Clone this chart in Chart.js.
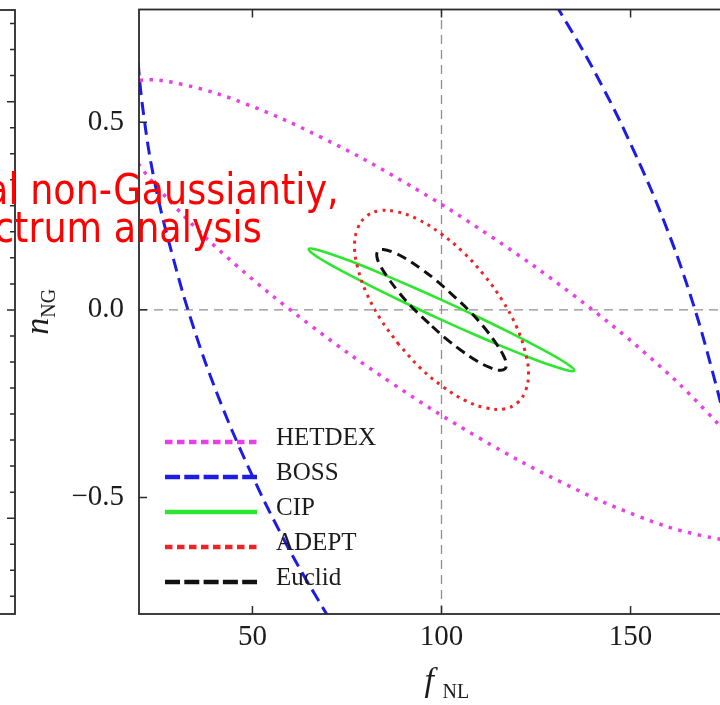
<!DOCTYPE html>
<html>
<head>
<meta charset="utf-8">
<title>fNL - nNG forecast contours</title>
<script src="https://cdn.jsdelivr.net/npm/chart.js@4.4.1/dist/chart.umd.min.js"></script>
<style>
  html, body { margin: 0; padding: 0; background: #fff; overflow: hidden; }
  #wrap { position: relative; width: 720px; height: 705px; overflow: hidden; }
  #panel { position: absolute; left: -100px; top: 0; }
  #main { position: absolute; left: 0; top: -12px; }
  .note {
    position: absolute; color: #f00; white-space: pre;
    font-family: "DejaVu Sans", sans-serif; font-size: 42px; line-height: 42px;
    transform: scaleX(0.87); transform-origin: 0 0;
  }
</style>
</head>
<body>
<div id="wrap">
  <canvas id="panel" width="130" height="705"></canvas>
  <canvas id="main" width="760" height="717"></canvas>
  <div class="note" style="left:-14px; top:169px">al non-Gaussiantiy,</div>
  <div class="note" style="left:-6px; top:207px">ctrum analysis</div>
</div>
<script>
// axes
const fRange = [20, 180];
const nRange = [-0.81, 0.8];
const fTicks = [20, 30, 40, 50, 60, 70, 80, 90, 100, 110, 120, 130, 140, 150, 160, 170, 180];
const fLabelled = [50, 100, 150];
const nTicks = [-0.8, -0.7, -0.6, -0.5, -0.4, -0.3, -0.2, -0.1, 0, 0.1, 0.2, 0.3, 0.4, 0.5, 0.6, 0.7, 0.8];
const nLabelled = [-0.5, 0, 0.5];
const nLabelText = ['\u22120.5', '0.0', '0.5'];

// fiducial cross
const fidF = 100;
const fidN = 0;

// neighbouring panel, only its right edge shows
const panelRange = [-1.46, 1.44];
const panelTicks = [-1.375, -1.25, -1.125, -1, -0.875, -0.75, -0.625, -0.5, -0.375, -0.25, -0.125, 0,
  0.125, 0.25, 0.375, 0.5, 0.625, 0.75, 0.875, 1, 1.125, 1.25, 1.375];
const panelMajor = [-1, 0, 1];

// contours (fNL, nNG)
const hetdexF = [186.3, 180.0, 168.3, 151.9, 131.9, 109.8, 87.0, 65.1, 45.6, 29.8, 18.8, 13.3, 13.7,
  20.0, 31.7, 48.1, 68.1, 90.2, 113.0, 134.9, 154.4, 170.2, 181.2, 186.7, 186.3];
const hetdexN = [-0.580, -0.611, -0.600, -0.549, -0.460, -0.340, -0.196, -0.039, 0.120, 0.272, 0.404, 0.510, 0.580,
  0.611, 0.600, 0.549, 0.460, 0.340, 0.196, 0.039, -0.120, -0.272, -0.404, -0.510, -0.580];

const bossF = [155.3, 138.2, 118.4, 97.4, 76.6, 66.7, 57.4, 48.8, 41.0, 34.3, 28.8, 24.3, 21.3, 19.6, 19.2,
  22.6, 31.3, 44.7, 61.8, 81.6, 102.6, 123.4, 133.3, 142.6, 151.2, 159.0, 165.7, 171.2, 175.7, 178.7,
  180.8, 177.4, 168.7, 155.3];
const bossN = [-1.430, -1.441, -1.354, -1.175, -0.916, -0.761, -0.594, -0.416, -0.232, -0.043, 0.147, 0.333, 0.514, 0.687, 0.848,
  1.123, 1.321, 1.430, 1.441, 1.354, 1.175, 0.916, 0.761, 0.594, 0.416, 0.232, 0.043, -0.147, -0.333, -0.514,
  -0.848, -1.123, -1.321, -1.430];

const cipF = [99.0, 89.9, 81.6, 74.5, 69.1, 65.8, 64.9, 66.3, 70.1, 75.9, 83.3, 91.9, 101.0,
  110.1, 118.4, 125.5, 130.9, 134.2, 135.1, 133.7, 129.9, 124.1, 116.7, 108.1, 99.0];
const cipN = [-0.022, 0.021, 0.062, 0.099, 0.129, 0.151, 0.162, 0.162, 0.151, 0.130, 0.100, 0.063, 0.022,
  -0.021, -0.062, -0.099, -0.129, -0.151, -0.162, -0.162, -0.151, -0.130, -0.100, -0.063, -0.022];

const adeptF = [88.7, 83.9, 80.2, 77.9, 77.0, 77.8, 80.0, 83.6, 88.3, 93.8, 99.7, 105.7, 111.3,
  116.1, 119.8, 122.1, 123.0, 122.2, 120.0, 116.4, 111.7, 106.2, 100.3, 94.3, 88.7];
const adeptN = [-0.092, -0.025, 0.044, 0.110, 0.168, 0.216, 0.248, 0.264, 0.261, 0.241, 0.204, 0.154, 0.092,
  0.025, -0.044, -0.110, -0.168, -0.216, -0.248, -0.264, -0.261, -0.241, -0.204, -0.154, -0.092];

const euclidF = [96.7, 92.4, 88.7, 85.8, 83.8, 82.9, 83.2, 84.6, 87.1, 90.5, 94.5, 98.9, 103.3,
  107.6, 111.3, 114.2, 116.2, 117.1, 116.8, 115.4, 112.9, 109.5, 105.5, 101.1, 96.7];
const euclidN = [-0.036, 0.005, 0.047, 0.086, 0.118, 0.142, 0.157, 0.161, 0.154, 0.137, 0.110, 0.076, 0.036,
  -0.005, -0.047, -0.086, -0.118, -0.142, -0.157, -0.161, -0.154, -0.137, -0.110, -0.076, -0.036];

const ink = '#1c1c1c';
const near = (v, list) => list.findIndex(m => Math.abs(m - v) < 1e-9);

// closed frame with ticks pointing inwards, Mathematica style
const frame = {
  id: 'frame',
  afterDatasetsDraw(chart, args, o) {
    const { ctx, chartArea: a, scales: { x, y } } = chart;
    ctx.save();
    ctx.strokeStyle = o.color;
    ctx.lineWidth = o.width;
    ctx.strokeRect(a.left, a.top, a.right - a.left, a.bottom - a.top);
    ctx.beginPath();
    if (o.xMajor) {
      x.ticks.forEach(t => {
        const p = x.getPixelForValue(t.value);
        const len = near(t.value, o.xMajor) >= 0 ? o.major : o.minor;
        ctx.moveTo(p, a.bottom); ctx.lineTo(p, a.bottom - len);
        ctx.moveTo(p, a.top); ctx.lineTo(p, a.top + len);
      });
    }
    y.ticks.forEach(t => {
      const p = y.getPixelForValue(t.value);
      const len = near(t.value, o.yMajor) >= 0 ? o.major : o.minor;
      ctx.moveTo(a.left, p); ctx.lineTo(a.left + len, p);
      ctx.moveTo(a.right, p); ctx.lineTo(a.right - len, p);
    });
    ctx.lineWidth = o.tickWidth;
    ctx.stroke();
    ctx.restore();
  }
};

// legend in the lower left corner of the plot
const key = {
  id: 'key',
  afterDatasetsDraw(chart, args, o) {
    const { ctx, chartArea: a } = chart;
    ctx.save();
    chart.data.datasets.filter(d => d.keyDash).forEach((d, i) => {
      const yRow = a.bottom - o.firstRow + i * o.rowGap;
      ctx.strokeStyle = d.borderColor;
      ctx.lineWidth = o.lineWidth;
      ctx.setLineDash(d.keyDash);
      ctx.beginPath();
      ctx.moveTo(a.left + o.x0, yRow);
      ctx.lineTo(a.left + o.x0 + o.len, yRow);
      ctx.stroke();
      ctx.setLineDash([]);
      ctx.fillStyle = ink;
      ctx.font = o.font;
      ctx.textBaseline = 'middle';
      ctx.fillText(d.label, a.left + o.textX, yRow - 4);
    });
    ctx.restore();
  }
};

// f_NL and n_NG with subscripts
const titles = {
  id: 'titles',
  afterDraw(chart) {
    const { ctx, chartArea: a } = chart;
    const big = 'italic 34px "Liberation Serif", serif';
    const small = '20px "Liberation Serif", serif';
    const cx = (a.left + a.right) / 2;
    const cy = (a.top + a.bottom) / 2;
    ctx.save();
    ctx.fillStyle = ink;
    ctx.textBaseline = 'alphabetic';
    ctx.font = big;
    ctx.fillText('f', cx - 17, a.bottom + 77);
    ctx.font = small;
    ctx.fillText('NL', cx + 1, a.bottom + 84);
    ctx.translate(48, cy);
    ctx.rotate(-Math.PI / 2);
    ctx.font = big;
    ctx.fillText('n', -23, 0);
    ctx.font = small;
    ctx.fillText('NG', -6, 7);
    ctx.restore();
  }
};

const pts = (fs, ns) => fs.map((f, i) => ({ x: f, y: ns[i] }));

function contour(label, fs, ns, color, width, dash, keyDash, order) {
  return {
    label, data: pts(fs, ns), borderColor: color, borderWidth: width, borderDash: dash,
    keyDash, showLine: true, tension: 0.4, pointRadius: 0, order
  };
}

function guide(data) {
  return {
    data, borderColor: '#8f8f8f', borderWidth: 1.3, borderDash: [9, 6],
    showLine: true, tension: 0, pointRadius: 0, order: 9
  };
}

new Chart(document.getElementById('main'), {
  type: 'scatter',
  data: {
    datasets: [
      contour('HETDEX', hetdexF, hetdexN, '#e93ee9', 3.5, [3.5, 6.5], [7.5, 4.5], 5),
      contour('BOSS', bossF, bossN, '#1c1ce6', 3, [13, 7], [15, 4.3], 4),
      contour('CIP', cipF, cipN, '#2de62d', 2.6, [], [], 3),
      contour('ADEPT', adeptF, adeptN, '#ec2424', 3, [3, 5], [7.5, 4.5], 2),
      contour('Euclid', euclidF, euclidN, '#111111', 3, [10, 6], [15, 4.3], 1),
      guide([{ x: fidF, y: nRange[0] }, { x: fidF, y: nRange[1] }]),
      guide([{ x: fRange[0], y: fidN }, { x: fRange[1], y: fidN }])
    ]
  },
  options: {
    responsive: false,
    animation: false,
    layout: { autoPadding: false, padding: { top: 10, right: 16, left: 0, bottom: 0 } },
    elements: { line: { capBezierPoints: false } },
    plugins: {
      legend: { display: false },
      tooltip: { enabled: false },
      frame: { color: '#2a2a2a', width: 1.8, tickWidth: 1.5, major: 8, minor: 5, xMajor: fLabelled, yMajor: nLabelled },
      key: { x0: 26, len: 92, textX: 137, firstRow: 172, rowGap: 35, lineWidth: 4.5, font: '25px "Liberation Serif", serif' }
    },
    scales: {
      x: {
        type: 'linear', position: 'bottom', min: fRange[0], max: fRange[1],
        afterBuildTicks: s => { s.ticks = fTicks.map(v => ({ value: v })); },
        afterFit: s => { s.height = 91; },
        grid: { display: false },
        border: { display: false },
        ticks: {
          autoSkip: false, maxRotation: 0, padding: 1, color: ink,
          font: { family: '"Liberation Serif", serif', size: 29, lineHeight: 1 },
          callback: v => (near(v, fLabelled) >= 0 ? String(v) : null)
        }
      },
      y: {
        type: 'linear', position: 'left', min: nRange[0], max: nRange[1],
        afterBuildTicks: s => { s.ticks = nTicks.map(v => ({ value: v })); },
        afterFit: s => { s.width = 139; },
        grid: { display: false },
        border: { display: false },
        ticks: {
          autoSkip: false, padding: 7, color: ink,
          font: { family: '"Liberation Serif", serif', size: 29, lineHeight: 1 },
          callback: v => { const k = near(v, nLabelled); return k >= 0 ? nLabelText[k] : null; }
        }
      }
    }
  },
  plugins: [frame, key, titles]
});

// the panel on the left, cut by the picture edge
new Chart(document.getElementById('panel'), {
  type: 'scatter',
  data: { datasets: [] },
  options: {
    responsive: false,
    animation: false,
    layout: { autoPadding: false, padding: { top: 10, right: 15, left: 0, bottom: 91 } },
    plugins: {
      legend: { display: false },
      tooltip: { enabled: false },
      frame: { color: '#2a2a2a', width: 1.8, tickWidth: 1.5, major: 8, minor: 5, xMajor: null, yMajor: panelMajor }
    },
    scales: {
      x: {
        type: 'linear', min: 0, max: 1,
        afterFit: s => { s.height = 0; },
        grid: { display: false }, border: { display: false }, ticks: { display: false }
      },
      y: {
        type: 'linear', min: panelRange[0], max: panelRange[1],
        afterBuildTicks: s => { s.ticks = panelTicks.map(v => ({ value: v })); },
        afterFit: s => { s.width = 0; },
        grid: { display: false }, border: { display: false }, ticks: { display: false }
      }
    }
  },
  plugins: [frame]
});
</script>
</body>
</html>
